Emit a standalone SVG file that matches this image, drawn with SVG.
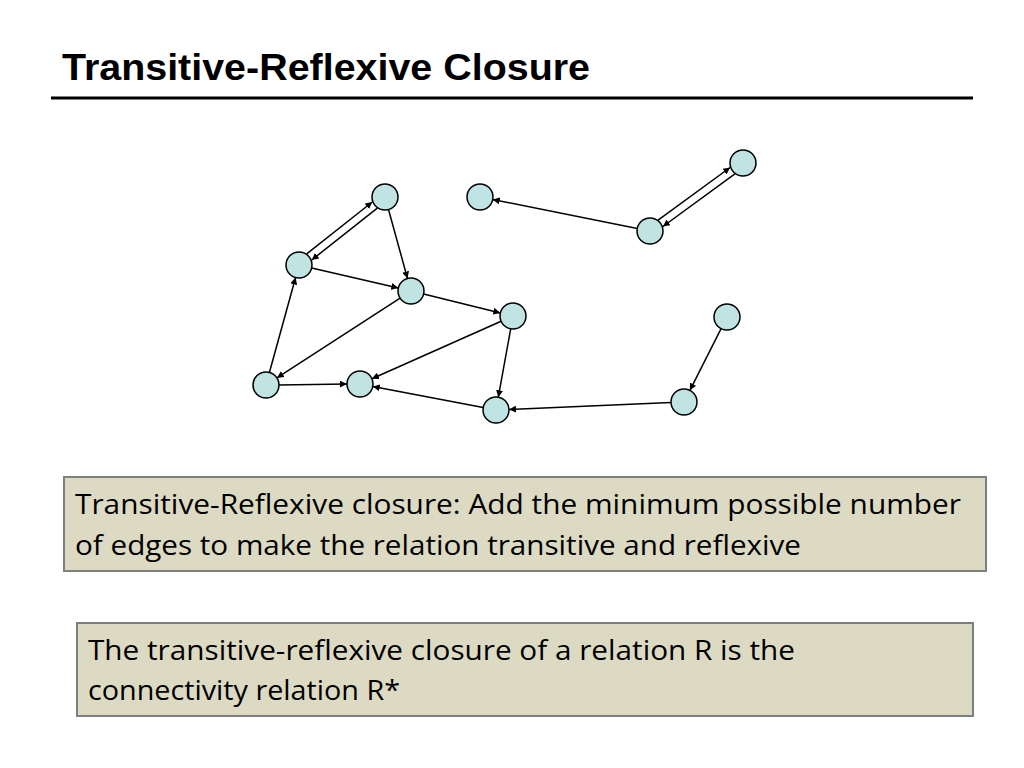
<svg xmlns="http://www.w3.org/2000/svg" width="1024" height="768" viewBox="0 0 1024 768">
<style>
.n{fill:#c0e4e4;stroke:#000;stroke-width:1.5}
.e{stroke:#000;stroke-width:1.5;fill:none;marker-end:url(#ah)}
.box{fill:#dddac4;stroke:#7f7f7f;stroke-width:2}
.t{font-family:"Open Sans","Liberation Sans",sans-serif;font-size:27px;fill:#000}
</style>
<defs><marker id="ah" viewBox="0 0 10 10" refX="10" refY="5" markerWidth="7" markerHeight="7" orient="auto" markerUnits="userSpaceOnUse"><path d="M0,0 L10,5 L0,10 z" fill="#000"/></marker></defs>
<rect width="1024" height="768" fill="#fff"/>
<text x="62" y="80" font-family="Liberation Sans,sans-serif" font-weight="bold" font-size="36" textLength="528" lengthAdjust="spacingAndGlyphs">Transitive-Reflexive Closure</text>
<line x1="51" y1="98" x2="973" y2="98" stroke="#000" stroke-width="3"/>
<g id="edges">
<line class="e" x1="306.7" y1="253.8" x2="372.3" y2="202"/>
<line class="e" x1="377.3" y1="208.2" x2="311.7" y2="260"/>
<line class="e" x1="388.5" y1="209.5" x2="407.5" y2="278.5"/>
<line class="e" x1="311.7" y1="267.9" x2="398.3" y2="288.1"/>
<line class="e" x1="423.6" y1="294.1" x2="500.4" y2="312.9"/>
<line class="e" x1="400.1" y1="298.1" x2="276.9" y2="377.9"/>
<line class="e" x1="269.4" y1="372.5" x2="295.6" y2="277.5"/>
<line class="e" x1="279" y1="385" x2="347" y2="384"/>
<line class="e" x1="501.1" y1="321.3" x2="371.9" y2="378.7"/>
<line class="e" x1="510.7" y1="328.8" x2="498.3" y2="397.2"/>
<line class="e" x1="483.2" y1="407.6" x2="372.8" y2="386.4"/>
<line class="e" x1="671" y1="402.6" x2="509" y2="409.4"/>
<line class="e" x1="721.1" y1="328.6" x2="689.9" y2="390.4"/>
<line class="e" x1="637.3" y1="228.5" x2="492.7" y2="199.5"/>
<line class="e" x1="658.1" y1="220.1" x2="730.1" y2="167.5"/>
<line class="e" x1="734.9" y1="173.9" x2="662.9" y2="226.5"/>
</g>
<g id="nA"><circle class="n" cx="385" cy="197" r="13"/></g>
<g id="nB"><circle class="n" cx="299" cy="265" r="13"/></g>
<g id="nC"><circle class="n" cx="411" cy="291" r="13"/></g>
<g id="nD"><circle class="n" cx="513" cy="316" r="13"/></g>
<g id="nE"><circle class="n" cx="266" cy="385" r="13"/></g>
<g id="nF"><circle class="n" cx="360" cy="384" r="13"/></g>
<g id="nG"><circle class="n" cx="496" cy="410" r="13"/></g>
<g id="nH"><circle class="n" cx="480" cy="197" r="13"/></g>
<g id="nI"><circle class="n" cx="650" cy="231" r="13"/></g>
<g id="nJ"><circle class="n" cx="743" cy="163" r="13"/></g>
<g id="nK"><circle class="n" cx="727" cy="317" r="13"/></g>
<g id="nL"><circle class="n" cx="684" cy="402" r="13"/></g>
<g id="box1"><rect class="box" x="64" y="477" width="922" height="94"/>
<text class="t" x="75" y="514" textLength="886" lengthAdjust="spacingAndGlyphs">Transitive-Reflexive closure:  Add the minimum possible number</text>
<text class="t" x="75" y="555" textLength="726" lengthAdjust="spacingAndGlyphs">of edges to make the relation transitive and reflexive</text></g>
<g id="box2"><rect class="box" x="77" y="623" width="896" height="93"/>
<text class="t" x="88" y="660" textLength="707" lengthAdjust="spacingAndGlyphs">The transitive-reflexive closure of a relation R is the</text>
<text class="t" x="88" y="700" textLength="312" lengthAdjust="spacingAndGlyphs">connectivity relation R*</text></g>
</svg>
